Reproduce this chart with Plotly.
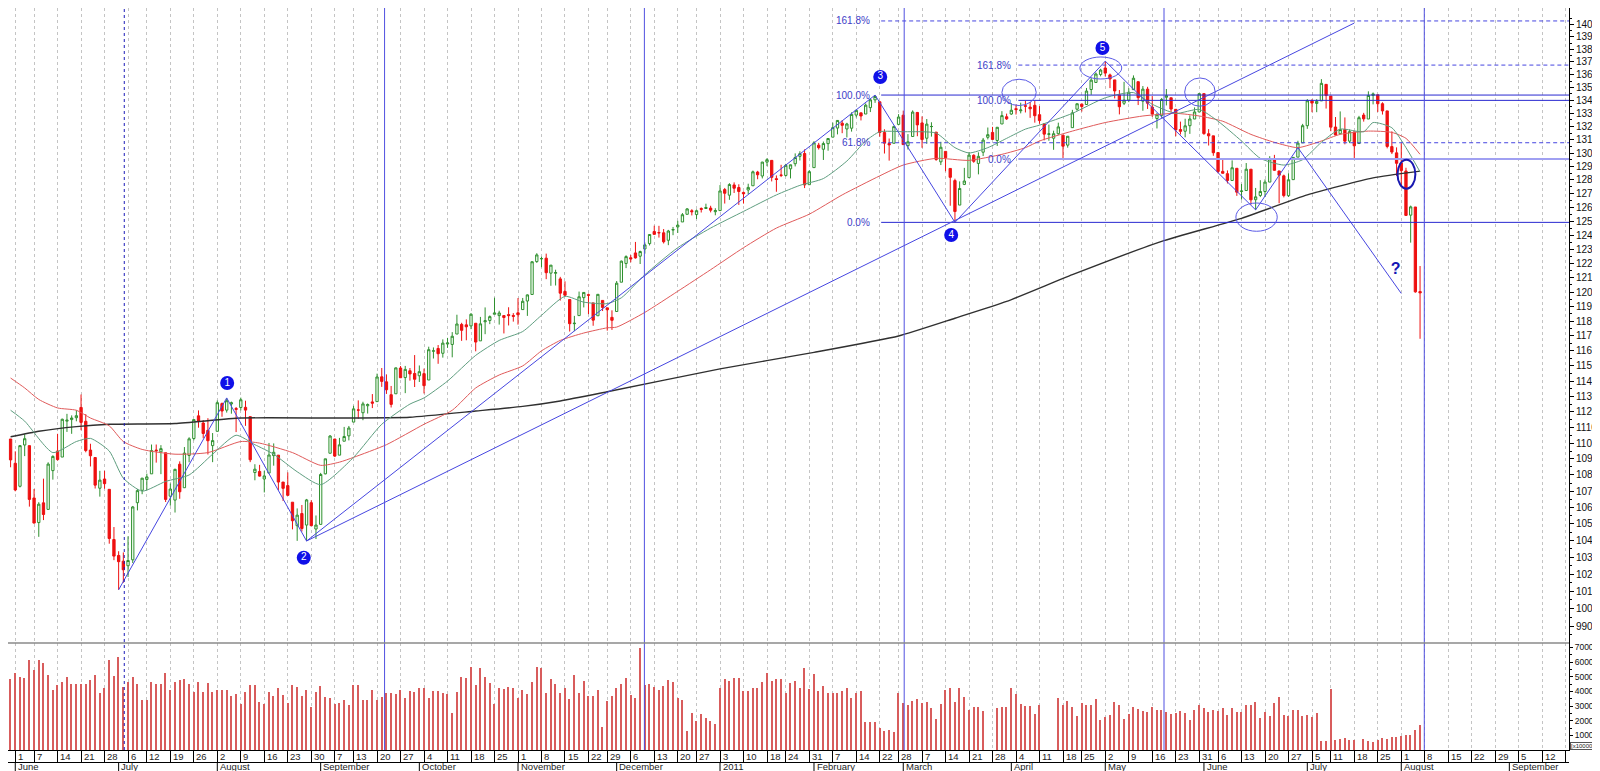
import math
import pandas as pd
import plotly.graph_objects as go

# trading calendar (exchange holidays skipped), bar 0 = 1 June 2010
holidays = ["2010-05-31", "2010-07-05", "2010-09-06", "2010-11-25", "2010-12-24",
            "2011-01-17", "2011-02-21", "2011-04-22", "2011-05-30", "2011-07-04"]
trade_days = pd.date_range("2010-05-28", "2011-08-05",
                           freq=pd.offsets.CustomBusinessDay(holidays=holidays))
future_days = pd.bdate_range("2011-08-08", "2011-09-19")
all_days = list(trade_days) + list(future_days)
pos = {d.strftime("%Y-%m-%d"): i - 1 for i, d in enumerate(all_days)}

# daily candles, one line per month (first value = 28 May 2010)
opens = [1102.6,
    1087.3, 1073.0, 1098.8, 1098.4, 1065.8, 1050.8, 1062.8, 1058.8, 1082.7, 1095.0, 1091.2, 1114.0, 1115.0, 1116.2, 1122.8, 1113.9, 1095.6, 1090.9, 1071.8, 1077.5, 1071.1, 1040.6,
    1031.1, 1027.7, 1025.0, 1028.5, 1062.9, 1070.5, 1077.2, 1080.7, 1095.6, 1094.5, 1093.9, 1066.9, 1064.5, 1086.7, 1072.1, 1092.2, 1102.9, 1117.4, 1112.8, 1108.1, 1098.4,
    1107.5, 1125.3, 1121.1, 1125.1, 1122.1, 1122.8, 1122.9, 1116.9, 1081.5, 1082.2, 1077.5, 1081.2, 1092.1, 1092.4, 1075.6, 1073.4, 1063.2, 1048.9, 1056.3, 1049.3, 1062.9, 1046.9,
    1049.7, 1080.7, 1093.6, 1102.6, 1092.4, 1101.2, 1104.6, 1113.4, 1121.2, 1119.4, 1123.9, 1126.4, 1126.6, 1142.8, 1139.5, 1131.1, 1131.7, 1148.6, 1142.3, 1146.8, 1145.0,
    1143.5, 1144.9, 1140.7, 1159.8, 1161.6, 1158.4, 1164.6, 1164.3, 1171.3, 1177.8, 1177.5, 1176.8, 1178.6, 1166.7, 1179.6, 1180.5, 1184.7, 1183.8, 1183.8, 1184.5, 1183.9,
    1185.7, 1187.9, 1193.8, 1198.3, 1221.2, 1223.2, 1223.6, 1213.1, 1213.0, 1209.1, 1200.4, 1194.8, 1178.3, 1183.8, 1196.1, 1198.1, 1192.5, 1183.7, 1194.2, 1189.1, 1182.6,
    1186.6, 1206.8, 1219.9, 1223.9, 1227.3, 1225.0, 1230.1, 1233.9, 1242.5, 1241.8, 1241.6, 1236.3, 1243.6, 1245.8, 1249.4, 1254.9, 1257.5, 1254.7, 1259.1, 1259.1, 1259.4, 1256.8,
    1257.6, 1272.9, 1268.8, 1276.3, 1274.4, 1270.8, 1272.6, 1275.7, 1285.8, 1282.9, 1293.2, 1294.5, 1280.9, 1283.6, 1283.3, 1288.2, 1292.0, 1297.5, 1299.6, 1276.5,
    1289.1, 1305.9, 1302.8, 1307.0, 1311.9, 1318.8, 1322.5, 1318.1, 1318.7, 1328.7, 1330.4, 1329.5, 1334.4, 1340.4, 1338.9, 1315.4, 1307.1, 1307.3, 1321.6,
    1328.6, 1305.5, 1312.4, 1330.7, 1322.7, 1311.1, 1319.9, 1315.7, 1293.4, 1301.2, 1288.5, 1279.5, 1261.6, 1276.7, 1281.7, 1298.3, 1292.2, 1300.6, 1311.8, 1315.5, 1309.4, 1321.9, 1327.4,
    1329.5, 1333.6, 1332.0, 1335.9, 1334.8, 1336.2, 1329.0, 1322.0, 1314.0, 1311.1, 1314.5, 1313.4, 1305.9, 1319.1, 1333.2, 1337.1, 1336.8, 1348.4, 1353.9, 1360.1,
    1365.2, 1359.8, 1355.9, 1344.2, 1337.8, 1340.2, 1348.3, 1354.5, 1339.4, 1348.7, 1334.8, 1326.1, 1328.5, 1342.4, 1342.0, 1333.1, 1317.7, 1316.4, 1320.6, 1325.7, 1331.1,
    1345.2, 1314.5, 1312.9, 1300.3, 1286.3, 1284.6, 1279.6, 1288.6, 1271.6, 1272.2, 1287.9, 1265.5, 1268.6, 1271.5, 1278.4, 1295.5, 1286.6, 1283.0, 1268.4, 1280.2, 1296.9, 1307.6,
    1320.6, 1339.6, 1337.6, 1339.6, 1352.4, 1343.3, 1319.6, 1314.5, 1317.7, 1308.9, 1315.9, 1307.1, 1328.7, 1325.7, 1343.8, 1344.3, 1337.4, 1331.9, 1304.8, 1300.1,
    1292.6, 1286.6, 1254.3, 1260.2, 1200.3]

highs = [1102.6,
    1094.8, 1098.6, 1105.7, 1098.4, 1071.3, 1063.2, 1077.7, 1087.9, 1092.3, 1105.9, 1115.6, 1118.7, 1117.7, 1121.0, 1131.2, 1118.5, 1099.6, 1090.9, 1082.6, 1082.6, 1071.1, 1048.1,
    1033.6, 1032.9, 1042.5, 1060.9, 1071.3, 1078.2, 1080.8, 1099.1, 1099.1, 1098.7, 1093.9, 1074.7, 1083.9, 1088.5, 1097.5, 1103.7, 1115.0, 1120.9, 1114.7, 1115.9, 1106.4,
    1127.3, 1126.0, 1128.8, 1126.6, 1123.1, 1129.2, 1127.2, 1116.9, 1086.7, 1086.3, 1082.6, 1100.1, 1099.8, 1092.4, 1075.6, 1081.6, 1063.2, 1059.4, 1061.5, 1065.2, 1064.4, 1055.1,
    1081.3, 1090.1, 1105.1, 1102.6, 1103.3, 1110.3, 1110.9, 1123.9, 1127.4, 1126.5, 1125.4, 1131.5, 1144.9, 1148.6, 1144.4, 1136.8, 1148.9, 1149.9, 1150.0, 1148.6, 1157.2,
    1150.3, 1148.2, 1162.8, 1162.3, 1163.9, 1167.7, 1168.7, 1172.6, 1184.4, 1178.9, 1181.2, 1185.5, 1178.6, 1182.9, 1189.4, 1183.9, 1196.1, 1187.1, 1183.8, 1189.5, 1185.5,
    1195.8, 1195.9, 1198.3, 1221.3, 1227.1, 1224.6, 1226.8, 1218.8, 1215.5, 1210.5, 1207.4, 1194.8, 1183.6, 1200.3, 1199.9, 1198.9, 1192.5, 1198.6, 1194.2, 1189.1, 1187.4,
    1207.6, 1221.9, 1225.6, 1225.8, 1235.1, 1228.9, 1234.7, 1240.4, 1246.7, 1246.6, 1244.3, 1243.7, 1245.8, 1250.2, 1255.8, 1259.4, 1258.6, 1258.4, 1259.9, 1262.6, 1261.1, 1259.3,
    1276.2, 1274.1, 1277.6, 1278.2, 1276.8, 1271.5, 1277.2, 1286.9, 1286.7, 1293.4, 1296.1, 1294.6, 1283.3, 1291.2, 1291.9, 1291.3, 1299.7, 1301.3, 1302.7, 1287.2,
    1308.9, 1307.6, 1308.6, 1311.0, 1322.9, 1324.9, 1324.8, 1322.8, 1330.8, 1332.9, 1330.4, 1337.6, 1341.5, 1344.1, 1338.9, 1317.9, 1310.9, 1320.6, 1329.4,
    1332.1, 1314.2, 1332.3, 1331.1, 1327.7, 1325.7, 1323.2, 1315.7, 1308.4, 1301.2, 1288.5, 1280.9, 1278.9, 1288.9, 1300.6, 1299.0, 1300.5, 1311.3, 1319.2, 1319.7, 1319.5, 1331.7, 1329.8,
    1337.9, 1336.7, 1338.2, 1339.5, 1338.8, 1339.5, 1335.6, 1322.0, 1321.4, 1316.8, 1322.9, 1313.4, 1312.7, 1332.7, 1337.5, 1337.6, 1349.6, 1357.5, 1361.7, 1364.6,
    1370.6, 1360.8, 1355.9, 1348.0, 1354.4, 1349.4, 1359.4, 1354.5, 1351.1, 1350.5, 1343.3, 1330.4, 1341.8, 1348.8, 1342.0, 1333.1, 1323.7, 1325.9, 1328.5, 1334.6, 1345.3,
    1345.2, 1318.0, 1312.9, 1300.3, 1296.2, 1287.0, 1294.5, 1288.6, 1277.0, 1292.5, 1287.9, 1274.1, 1279.8, 1280.4, 1297.6, 1298.6, 1286.8, 1283.9, 1284.9, 1296.8, 1309.2, 1322.0,
    1341.0, 1340.9, 1340.9, 1356.5, 1352.4, 1343.3, 1327.2, 1331.5, 1326.9, 1317.7, 1315.9, 1328.1, 1330.4, 1347.0, 1346.1, 1344.3, 1338.5, 1331.9, 1316.3, 1304.2,
    1307.4, 1289.0, 1261.2, 1260.2, 1218.1]

lows = [1084.8,
    1069.9, 1072.3, 1091.8, 1060.5, 1050.3, 1042.2, 1052.3, 1058.8, 1077.1, 1089.0, 1091.2, 1107.1, 1105.9, 1113.9, 1108.2, 1094.2, 1085.3, 1071.6, 1066.6, 1071.5, 1038.1, 1028.3,
    1010.9, 1015.0, 1018.4, 1026.6, 1058.2, 1068.1, 1070.5, 1080.7, 1087.7, 1080.5, 1063.3, 1061.1, 1056.9, 1065.3, 1072.1, 1087.9, 1101.8, 1109.8, 1103.1, 1092.8, 1088.0,
    1107.5, 1116.8, 1119.5, 1118.8, 1107.0, 1120.9, 1111.0, 1088.0, 1076.7, 1079.0, 1069.2, 1081.2, 1085.8, 1070.7, 1063.9, 1067.1, 1046.7, 1039.8, 1045.4, 1039.7, 1048.8, 1040.9,
    1049.7, 1080.4, 1093.6, 1091.2, 1092.4, 1101.2, 1101.7, 1113.4, 1115.6, 1114.6, 1118.9, 1122.4, 1126.6, 1136.2, 1131.6, 1122.8, 1131.7, 1142.0, 1132.1, 1140.3, 1136.1,
    1139.4, 1131.9, 1140.7, 1154.9, 1151.4, 1155.5, 1162.0, 1155.7, 1171.3, 1166.7, 1167.1, 1174.6, 1159.7, 1166.7, 1171.2, 1178.0, 1184.7, 1177.7, 1171.7, 1177.1, 1179.7,
    1177.7, 1187.9, 1183.6, 1198.3, 1220.3, 1217.2, 1208.9, 1204.3, 1204.5, 1194.1, 1197.2, 1173.0, 1173.3, 1183.8, 1189.4, 1184.8, 1176.9, 1183.7, 1186.9, 1173.6, 1174.1,
    1186.6, 1206.8, 1216.6, 1220.7, 1223.3, 1219.5, 1226.8, 1232.6, 1240.3, 1238.2, 1234.0, 1232.8, 1239.9, 1241.5, 1249.4, 1254.9, 1254.1, 1251.5, 1256.2, 1258.9, 1256.3, 1254.2,
    1257.6, 1262.7, 1265.4, 1270.4, 1261.7, 1262.7, 1269.6, 1275.7, 1280.5, 1281.1, 1290.2, 1278.9, 1271.3, 1282.1, 1282.5, 1281.1, 1290.0, 1294.4, 1274.0, 1276.5,
    1289.1, 1302.6, 1294.8, 1301.7, 1311.9, 1314.0, 1314.9, 1311.7, 1316.1, 1326.9, 1324.6, 1329.5, 1331.0, 1338.1, 1312.3, 1299.6, 1294.3, 1307.3, 1320.9,
    1306.1, 1302.6, 1312.4, 1312.6, 1303.9, 1306.9, 1312.3, 1294.2, 1291.0, 1286.4, 1261.1, 1249.1, 1261.6, 1276.2, 1281.7, 1292.7, 1284.1, 1297.7, 1310.2, 1310.0, 1305.3, 1321.9, 1325.0,
    1328.9, 1329.1, 1330.0, 1330.7, 1326.6, 1322.9, 1322.1, 1309.5, 1309.2, 1302.4, 1313.7, 1294.7, 1304.0, 1319.1, 1332.0, 1331.4, 1336.7, 1344.3, 1353.6, 1358.7,
    1358.6, 1349.5, 1341.5, 1329.2, 1336.4, 1338.6, 1348.3, 1336.4, 1332.0, 1333.4, 1327.3, 1318.5, 1326.6, 1336.1, 1330.7, 1312.6, 1313.9, 1311.8, 1314.4, 1325.7, 1331.1,
    1313.7, 1305.6, 1297.9, 1284.9, 1284.7, 1277.4, 1279.6, 1268.3, 1265.6, 1272.2, 1261.9, 1258.1, 1267.4, 1267.6, 1278.4, 1286.8, 1262.9, 1267.2, 1267.5, 1280.2, 1296.9, 1307.6,
    1318.2, 1330.9, 1330.9, 1339.6, 1333.7, 1316.4, 1313.3, 1314.5, 1306.5, 1307.4, 1295.9, 1307.1, 1323.7, 1325.7, 1336.9, 1331.1, 1329.1, 1303.5, 1299.2, 1282.9,
    1274.7, 1254.0, 1234.6, 1199.5, 1168.1]

closes = [1089.4,
    1070.7, 1098.4, 1102.8, 1064.9, 1050.5, 1062.0, 1055.7, 1086.8, 1091.6, 1089.6, 1115.2, 1114.6, 1116.0, 1117.5, 1113.2, 1095.3, 1092.0, 1073.7, 1076.8, 1074.6, 1041.2, 1030.7,
    1027.4, 1022.6, 1028.1, 1060.3, 1070.3, 1078.0, 1078.8, 1095.3, 1095.2, 1096.5, 1064.9, 1071.3, 1083.5, 1069.6, 1093.7, 1102.7, 1115.0, 1113.8, 1106.1, 1101.5, 1101.6,
    1125.9, 1120.5, 1127.2, 1125.8, 1121.6, 1127.8, 1121.1, 1089.5, 1083.6, 1079.3, 1079.4, 1092.5, 1094.2, 1075.6, 1071.7, 1067.4, 1051.9, 1055.3, 1047.2, 1064.6, 1048.9, 1049.3,
    1080.3, 1090.1, 1104.5, 1091.8, 1098.9, 1104.2, 1109.6, 1121.9, 1121.1, 1125.1, 1124.7, 1125.6, 1142.7, 1139.8, 1134.3, 1124.8, 1148.7, 1142.2, 1147.7, 1144.7, 1141.2,
    1146.2, 1137.0, 1160.8, 1160.0, 1158.1, 1165.2, 1165.3, 1169.8, 1178.1, 1173.8, 1176.2, 1184.7, 1165.9, 1178.2, 1180.3, 1183.1, 1185.6, 1185.6, 1182.5, 1183.8, 1183.3,
    1184.4, 1193.6, 1198.0, 1221.1, 1225.9, 1223.3, 1213.4, 1218.7, 1213.5, 1199.2, 1197.8, 1178.3, 1178.6, 1196.7, 1199.7, 1197.8, 1180.7, 1198.4, 1189.4, 1187.8, 1180.6,
    1206.1, 1221.5, 1224.7, 1223.1, 1223.8, 1228.3, 1233.0, 1240.4, 1240.5, 1241.6, 1235.2, 1242.9, 1243.9, 1247.1, 1254.6, 1258.8, 1256.8, 1257.5, 1258.5, 1259.8, 1257.9, 1257.6,
    1271.9, 1270.2, 1276.6, 1273.9, 1271.5, 1269.8, 1274.5, 1286.0, 1283.8, 1293.2, 1295.0, 1281.9, 1280.3, 1283.4, 1290.8, 1291.2, 1296.6, 1299.5, 1276.3, 1286.1,
    1307.6, 1304.0, 1307.1, 1310.9, 1319.1, 1324.6, 1320.9, 1321.9, 1329.2, 1332.3, 1328.0, 1336.3, 1340.4, 1343.0, 1315.4, 1307.4, 1306.1, 1319.9, 1327.2,
    1306.3, 1308.4, 1331.0, 1321.2, 1310.1, 1321.8, 1320.0, 1295.1, 1304.3, 1296.4, 1281.9, 1256.9, 1273.7, 1279.2, 1298.4, 1293.8, 1297.5, 1309.7, 1313.8, 1310.2, 1319.4, 1328.3, 1325.8,
    1332.4, 1332.9, 1332.6, 1335.5, 1333.5, 1328.2, 1324.5, 1314.2, 1314.4, 1314.5, 1319.7, 1305.1, 1312.6, 1330.4, 1337.4, 1335.3, 1347.2, 1355.7, 1360.5, 1363.6,
    1361.2, 1356.6, 1347.3, 1335.1, 1340.2, 1346.3, 1357.2, 1342.1, 1348.7, 1337.8, 1329.5, 1329.0, 1340.7, 1343.6, 1333.3, 1317.4, 1316.3, 1320.5, 1325.7, 1331.1, 1345.2,
    1314.6, 1312.9, 1300.2, 1286.2, 1284.9, 1279.6, 1289.0, 1271.0, 1271.8, 1287.9, 1265.4, 1267.6, 1271.5, 1278.4, 1295.5, 1287.1, 1283.5, 1268.5, 1280.1, 1296.7, 1307.4, 1320.6,
    1339.7, 1337.9, 1339.2, 1353.2, 1343.8, 1319.5, 1313.6, 1317.7, 1308.9, 1316.1, 1305.4, 1326.7, 1325.8, 1343.8, 1345.0, 1337.4, 1331.9, 1304.9, 1300.7, 1292.3,
    1286.9, 1254.1, 1260.3, 1200.1, 1199.4]

# volume in units of 100000 shares, None = no bar printed
volumes = [48200,
    52700, 50000, 49400, 61300, 54500, 61300, 59600, 50900, 40700, 44100, 46200, 49800, 45300, 45300, 44800, 45300, 47500, 50900, 38900, 42000, 61300, 50400,
    63700, 43000, 46600, 49600, 45300, 34400, 34400, 46200, 44800, 45300, 52700, 40700, 46600, 47500, 48200, 45300, 39800, 46600, 39800, 45700, 39800,
    41100, 40700, 40700, 36800, 37900, 31100, 39300, 44600, 44600, 32900, 31100, 39300, 36800, 42500, 37300, 32100, 44100, 43000, 36800, 40700, 29100, 39800,
    43600, 36300, 35200, 31100, 32100, 33800, 30400, 44600, 44600, 33800, 33800, 40700, 34400, 36000, 38600, 38700, 38000, 40900, 35200, 40000, 39300,
    42100, 42100, 35200, 40500, 40500, 38700, 38200, 25000, 39800, 49600, 49100, 56800, 44300, 56200, 49600, 45500, 31400, 42100, 41700, 42700, 42300,
    35200, 40700, 38000, 46200, 56800, 55700, 38700, 48200, 45000, 38700, 42100, 34600, 50900, 38700, 46800, 36800, 36800, 40900, 15700, 33700, 36800,
    42100, 45000, 49400, 37300, 35200, 69500, 44600, 45300, 42700, 40900, 43600, 47500, 46200, 35200, 34100, 12700, 25000, 20000, 24300, 22100, 19800, 17700,
    42100, 48200, 47300, 48900, 49400, 40200, 40500, 42500, 42500, 46200, 52800, 47300, 48400, 48400, 38700, 45900, 47000, 42500, 55700, 41400,
    51600, 40500, 43600, 38700, 38700, 38700, 40500, 42100, 35200, 38700, 40000, 19400, 19400, 19400, 15000, 13000, 13600, 12100, 38700,
    32000, 30900, 33700, 34600, 31800, 33000, 28400, 20900, 31200, 40900, 42500, 33000, 42500, 35900, 27300, 29100, 29100, 26600, None, None, 28400, 29100, 29600,
    42100, 38200, 31200, 30000, 30000, 24500, 31000, None, None, None, 35200, 31000, 33700, 29100, 23200, 31800, 30700, 30700, 34600, 20500,
    22300, 23900, 32500, 30700, 20900, 24500, 29100, 27700, 26900, 26200, 29100, 27300, 27000, 25700, 24300, 25000, 26600, 25000, 20500, 27300, 31000,
    28400, 26200, 27300, 26600, 28400, 23900, 28400, 26200, 25700, 31000, 30700, 32500, 22100, 25700, 23200, 31800, 35900, 23900, 23200, 27300, 27300, 23200,
    23900, 22800, 25500, 5900, 5900, 41600, 6600, 7300, 8000, 6800, 6800, None, 7800, 6400, 5700, 6800, 8500, 7800, 9100, 9100,
    9500, 10200, 10200, 13600, 17000]

for name, arr in [("opens", opens), ("highs", highs), ("lows", lows), ("closes", closes), ("volumes", volumes)]:
    if len(arr) != len(trade_days):
        raise ValueError(f"{name}: {len(arr)} values for {len(trade_days)} days")

# moving averages
green_dates = ["2010-05-28", "2010-06-03", "2010-06-11", "2010-06-18", "2010-06-23", "2010-06-29", "2010-07-02",
    "2010-07-09", "2010-07-16", "2010-07-23", "2010-07-30", "2010-08-06", "2010-08-12", "2010-08-18", "2010-08-25",
    "2010-09-01", "2010-09-13", "2010-09-21", "2010-09-29", "2010-10-04", "2010-10-11", "2010-10-19", "2010-10-26",
    "2010-11-02", "2010-11-08", "2010-11-15", "2010-11-19", "2010-11-29", "2010-12-02", "2010-12-09", "2010-12-20",
    "2010-12-30", "2011-01-10", "2011-01-20", "2011-01-27", "2011-02-03", "2011-02-10", "2011-02-16", "2011-02-22",
    "2011-03-01", "2011-03-07", "2011-03-10", "2011-03-16", "2011-03-21", "2011-03-25", "2011-03-31", "2011-04-06",
    "2011-04-11", "2011-04-20", "2011-05-02", "2011-05-10", "2011-05-16", "2011-05-23", "2011-05-31", "2011-06-06",
    "2011-06-13", "2011-06-17", "2011-06-24", "2011-06-30", "2011-07-07", "2011-07-13", "2011-07-20", "2011-07-22",
    "2011-07-28", "2011-08-02", "2011-08-05"]
green_vals = [1121, 1114, 1094, 1101, 1103, 1095, 1078,
    1070, 1076, 1080, 1093, 1105, 1099, 1093, 1082,
    1074, 1091, 1112, 1125, 1129, 1140, 1157, 1167,
    1173, 1184, 1197, 1193, 1192, 1196, 1212, 1231,
    1245, 1257, 1269, 1276, 1281, 1294, 1309, 1316,
    1316, 1316, 1315, 1304, 1300, 1304, 1311, 1318,
    1321, 1330, 1342, 1346, 1337, 1330, 1333, 1324,
    1309, 1296, 1291, 1295, 1308, 1318, 1316, 1323,
    1319, 1304, 1286]

red_dates = ["2010-05-28", "2010-06-03", "2010-06-08", "2010-06-14", "2010-06-18", "2010-06-23", "2010-06-29",
    "2010-07-02", "2010-07-09", "2010-07-20", "2010-07-29", "2010-08-09", "2010-08-13", "2010-08-24", "2010-09-01",
    "2010-09-08", "2010-09-13", "2010-09-22", "2010-10-04", "2010-10-12", "2010-10-19", "2010-10-26", "2010-11-02",
    "2010-11-08", "2010-11-12", "2010-11-19", "2010-11-29", "2010-12-01", "2010-12-09", "2010-12-20", "2010-12-30",
    "2011-01-10", "2011-01-20", "2011-01-31", "2011-02-09", "2011-02-22", "2011-03-01", "2011-03-10", "2011-03-21",
    "2011-03-30", "2011-04-06", "2011-04-11", "2011-04-20", "2011-05-02", "2011-05-12", "2011-05-23", "2011-05-31",
    "2011-06-07", "2011-06-15", "2011-06-22", "2011-06-29", "2011-07-07", "2011-07-13", "2011-07-21", "2011-07-28",
    "2011-08-02", "2011-08-05"]
red_vals = [1142, 1135.5, 1128, 1122.5, 1121, 1116, 1111,
    1101, 1096, 1093, 1094, 1101, 1100, 1094, 1086,
    1088, 1091, 1099, 1112, 1121, 1135.5, 1144, 1150,
    1160, 1167, 1172, 1175.5, 1176, 1186, 1200.5, 1215.5,
    1231, 1245, 1255, 1269, 1283, 1291, 1296, 1294.5,
    1299, 1304, 1309, 1316.5, 1323, 1328, 1330, 1328,
    1324, 1314, 1308, 1304, 1309, 1314, 1316.5, 1315.5,
    1311, 1299]

black_dates = ["2010-05-28", "2010-06-08", "2010-06-18", "2010-06-29", "2010-07-20", "2010-08-09", "2010-09-08",
    "2010-09-29", "2010-10-19", "2010-11-02", "2010-11-12", "2010-11-29", "2011-01-03", "2011-02-01", "2011-02-28",
    "2011-03-16", "2011-03-31", "2011-04-20", "2011-05-18", "2011-06-13", "2011-07-01", "2011-07-22", "2011-08-05"]
black_vals = [1104, 1107.5, 1110.5, 1112, 1112.5, 1116, 1116,
    1116.5, 1120.5, 1123.5, 1127, 1133, 1148, 1159, 1170,
    1182, 1193.5, 1212, 1235.5, 1252, 1269, 1281.5, 1286.5]

# wave count and drawn lines
wave_names = ["1", "2", "3", "4", "5"]
wave_x = [45.1, 61.4, 184.1, 199.2, 231.4]
wave_y = [1138.7, 1029.7, 1358.2, 1240.0, 1381.0]
zig_dates = ["2010-07-01", "2010-08-04", "2010-08-27", "2011-02-18", "2011-03-16",
             "2011-05-02", "2011-06-16", "2011-06-29", "2011-08-01"]
zig_vals = [1010.9, 1129.0, 1039.7, 1344.1, 1249.1, 1370.6, 1258.1, 1304.0, 1199.0]
trend_dates = ["2010-08-27", "2011-07-18"]
trend_vals = [1039.7, 1401.0]

fib_levels = [1402.7, 1344.1, 1307.7, 1249.1]
fib_labels = ["161.8%", "100.0%", "61.8%", "0.0%"]
fib2_levels = [1367.5, 1340.0, 1295.5]
fib2_labels = ["161.8%", "100.0%", "0.0%"]

cycle_x = [23.2, 78.6, 133.9, 189.2, 244.5, 299.9]

x = [pos[d.strftime("%Y-%m-%d")] for d in trade_days]
X_MAX = 330.7
BLUE = "#4646e0"

fig = go.Figure()

fig.add_trace(go.Scatter(x=[pos[d] for d in black_dates], y=black_vals, mode="lines",
                         line=dict(color="#303030", width=1.4, shape="spline", smoothing=0.5)))
fig.add_trace(go.Scatter(x=[pos[d] for d in red_dates], y=red_vals, mode="lines",
                         line=dict(color="#e05a5a", width=1, shape="spline", smoothing=0.6)))
fig.add_trace(go.Scatter(x=[pos[d] for d in green_dates], y=green_vals, mode="lines",
                         line=dict(color="#5f9e80", width=1, shape="spline", smoothing=0.6)))

fig.add_trace(go.Candlestick(
    x=x, open=opens, high=highs, low=lows, close=closes,
    increasing=dict(line=dict(color="#2f902f", width=1), fillcolor="#f6fff6"),
    decreasing=dict(line=dict(color="#ee1010", width=1), fillcolor="#ee1010"),
    whiskerwidth=0))

# fibonacci levels
fib_dash = ["dash", "solid", "dash", "solid"]
for lvl, dash in zip(fib_levels, fib_dash):
    fig.add_trace(go.Scatter(x=[184.3, X_MAX], y=[lvl, lvl], mode="lines",
                             line=dict(color=BLUE if dash == "dash" else "#2828d0", width=1,
                                       dash="4px,3px" if dash == "dash" else "solid")))
fib2_style = [("#4646e0", 1, "4px,3px"), ("#2828d0", 1, "solid"), ("#a0a0f2", 2, "solid")]
for lvl, (col, w, dash) in zip(fib2_levels, fib2_style):
    fig.add_trace(go.Scatter(x=[213.5, X_MAX], y=[lvl, lvl], mode="lines",
                             line=dict(color=col, width=w, dash=dash)))

# wave lines
fig.add_trace(go.Scatter(x=[pos[d] for d in zig_dates], y=zig_vals, mode="lines",
                         line=dict(color=BLUE, width=1)))
fig.add_trace(go.Scatter(x=[pos[d] for d in trend_dates], y=trend_vals, mode="lines",
                         line=dict(color=BLUE, width=1)))

fig.add_trace(go.Scatter(x=wave_x, y=wave_y, mode="markers+text", text=wave_names,
                         textposition="middle center",
                         textfont=dict(color="white", size=10, family="Arial Black, Liberation Sans"),
                         marker=dict(size=14, color="#1010e8")))
fig.add_trace(go.Scatter(x=[293.8], y=[1215.6], mode="text", text=["<b>?</b>"],
                         textfont=dict(color="#1414b4", size=16)))

fig.add_trace(go.Bar(x=x, y=volumes, xaxis="x2", yaxis="y2", width=0.3,
                     marker=dict(color="#d85c5c", line=dict(width=0))))

# axes
week_ticks, week_text = [], []
month_ticks, month_text = [], []
for i, d in enumerate(all_days):
    if i == 0:
        continue
    p = i - 1
    prev = all_days[i - 1]
    if d.weekday() <= prev.weekday() or (d - prev).days >= 7:
        week_ticks.append(p)
        week_text.append(str(d.day))
    if d.month != prev.month:
        month_ticks.append(p)
        month_text.append("2011" if d.month == 1 else d.strftime("%B"))
if 0 not in week_ticks:
    week_ticks.insert(0, 0)
    week_text.insert(0, "1")

PLOT_H = 742.0
VOL_TOP = (PLOT_H - 635) / PLOT_H
price_ticks = list(range(990, 1401, 10))
fig.update_layout(
    width=1600, height=771, margin=dict(l=0, r=39, t=0, b=771 - PLOT_H),
    showlegend=False, plot_bgcolor="white", paper_bgcolor="white",
    font=dict(family="Liberation Sans, Arial, sans-serif", size=10, color="#111"),
    boxgap=0.3, hovermode=False, bargap=0,
    xaxis=dict(domain=[0, 1], anchor="y", range=[-1.55, X_MAX], tickvals=week_ticks,
               showticklabels=False, ticks="", showgrid=True, gridcolor="#c4c4c4",
               griddash="3px,3px", gridwidth=1, zeroline=False, automargin=False,
               rangeslider=dict(visible=False)),
    yaxis=dict(domain=[VOL_TOP, 1], anchor="x", side="right", type="log",
               range=[math.log10(980.4), math.log10(1413.2)], tickvals=price_ticks,
               ticks="outside", ticklen=4, tickcolor="black", showline=True, linecolor="black",
               showgrid=False, zeroline=False, tickfont=dict(size=10), automargin=False,
               minor=dict(tickvals=[v + 5 for v in range(980, 1410, 10)], ticks="outside",
                          ticklen=2, tickcolor="black")),
    xaxis2=dict(domain=[0, 1], anchor="y2", matches="x", range=[-1.55, X_MAX],
                tickvals=week_ticks, showticklabels=False, ticks="outside", ticklen=12,
                tickcolor="black", showline=True, linecolor="black", showgrid=True,
                gridcolor="#c4c4c4", griddash="3px,3px", zeroline=False, automargin=False,
                rangeslider=dict(visible=False)),
    yaxis2=dict(domain=[0, VOL_TOP], anchor="x2", side="right", range=[0, 73000],
                tickvals=list(range(10000, 70001, 10000)), tickformat="d", ticks="outside",
                ticklen=3, tickcolor="black", showline=True, linecolor="black", showgrid=False,
                zeroline=False, tickfont=dict(size=8.5), automargin=False,
                minor=dict(tickvals=list(range(5000, 73000, 10000)), ticks="outside",
                           ticklen=2, tickcolor="black")),
)

px_h = 1 / PLOT_H
shapes = []
for cx in cycle_x:
    first = cx == cycle_x[0]
    shapes.append(dict(type="line", xref="x", yref="paper", x0=cx, x1=cx, y0=0, y1=1,
                       line=dict(color="#1c1cb8" if first else "#5050e0", width=1,
                                 dash="dot" if first else "solid")))
shapes.append(dict(type="line", xref="paper", yref="paper", x0=0, x1=1, y0=VOL_TOP, y1=VOL_TOP,
                   line=dict(color="#8a8a8a", width=1.5)))
shapes.append(dict(type="line", xref="paper", yref="paper", x0=0, x1=1,
                   y0=-12.5 * px_h, y1=-12.5 * px_h, line=dict(color="black", width=1)))
for mt in month_ticks:
    shapes.append(dict(type="line", xref="x", yref="paper", x0=mt, x1=mt,
                       y0=-12.5 * px_h, y1=-29 * px_h, line=dict(color="black", width=1)))
# circled areas
ellipses = [(226.6, 235.5, 1356.6, 1373.9, 1), (248.9, 255.4, 1335.5, 1357.4, 1),
            (259.8, 268.6, 1242.7, 1263.1, 1), (210.0, 217.3, 1336.0, 1356.4, 1),
            (294.2, 298.0, 1273.6, 1295.0, 2)]
for x0, x1, y0, y1, w in ellipses:
    shapes.append(dict(type="circle", xref="x", yref="y", x0=x0, x1=x1, y0=y0, y1=y1,
                       line=dict(color="#1818b0" if w == 2 else "#5a5ae6", width=w)))
fig.update_layout(shapes=shapes)

ann = []
for p, t in zip(week_ticks, week_text):
    if p > 327:
        continue
    ann.append(dict(x=p + 0.35, y=0, xref="x", yref="paper", text=t, showarrow=False,
                    xanchor="left", yanchor="top", yshift=0.5, borderpad=0,
                    font=dict(size=9.5, color="#222")))
for p, t in zip(month_ticks, month_text):
    ann.append(dict(x=p + 0.35, y=0, xref="x", yref="paper", text=t, showarrow=False,
                    xanchor="left", yanchor="bottom", yshift=-23, borderpad=0,
                    font=dict(size=9.5, color="#222")))
for lvl, lab in zip(fib_levels, fib_labels):
    ann.append(dict(x=182.3, y=math.log10(lvl), xref="x", yref="y", text=lab, showarrow=False,
                    xanchor="right", yanchor="middle", font=dict(size=10, color="#4040c8")))
for lvl, lab in zip(fib2_levels, fib2_labels):
    ann.append(dict(x=212.4, y=math.log10(lvl), xref="x", yref="y", text=lab, showarrow=False,
                    xanchor="right", yanchor="middle", font=dict(size=10, color="#4040c8")))
ann.append(dict(x=1.0, y=0, xref="paper", yref="paper", text="[x100000]", showarrow=False,
                xanchor="left", yanchor="bottom", xshift=1, yshift=0.5, borderpad=0,
                bordercolor="#555", borderwidth=1, font=dict(size=6, color="#222")))
fig.update_layout(annotations=ann)

fig.write_html("out.html")
